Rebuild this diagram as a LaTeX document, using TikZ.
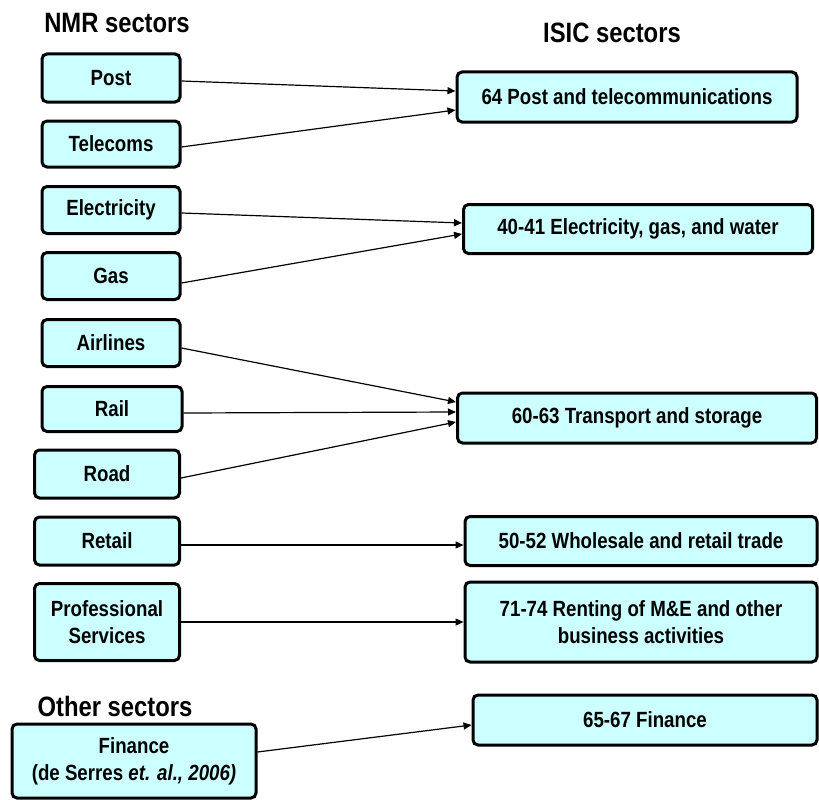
\documentclass[tikz,border=0pt]{standalone}
\usepackage{fontspec}
\setmainfont{Liberation Sans}[FakeStretch=0.85]
\usepackage{xcolor}
\usepackage{tikz}
\usetikzlibrary{arrows.meta,positioning}

\definecolor{boxcyan}{HTML}{CCFFFF}

\begin{document}
\begin{tikzpicture}[x=1pt, y=-1pt, >={Triangle[length=8pt,width=7pt]},
  sector/.style={draw, line width=3pt, rounded corners=5pt, fill=boxcyan,
    font=\fontsize{22}{27}\selectfont\bfseries, align=center, inner sep=0pt},
  title/.style={font=\fontsize{28}{30}\selectfont\bfseries},
  link/.style={->, line width=1.2pt}]
  \useasboundingbox (0,0) rectangle (819,800);
  % --- Headings ---
  \node[title] (nmrtitle) at (117,23) {NMR sectors};
  \node[title] (isictitle) at (612,33) {ISIC sectors};
  \node[title] (othertitle) at (115,706) {Other sectors};
  % --- NMR sectors (left) ---
  \node[sector, minimum width=138, minimum height=48] (post) at (111,78) {Post};
  \node[sector, minimum width=138, minimum height=46] (telecoms) at (111,144) {Telecoms};
  \node[sector, minimum width=138, minimum height=47] (elec) at (111,210) {Electricity};
  \node[sector, minimum width=138, minimum height=47] (gas) at (111,276) {Gas};
  \node[sector, minimum width=138, minimum height=47] (airlines) at (111,343) {Airlines};
  \node[sector, minimum width=140, minimum height=45] (rail) at (112,409) {Rail};
  \node[sector, minimum width=145, minimum height=48] (road) at (107,474) {Road};
  \node[sector, minimum width=145, minimum height=48] (retail) at (107,541) {Retail};
  \node[sector, minimum width=145, minimum height=77] (profserv) at (107,622) {Professional\\Services};
  \node[sector, minimum width=244, minimum height=74] (finance) at (134,761)
    {Finance\\(de Serres \textit{et. al., 2006)}};
  % --- ISIC sectors (right) ---
  \node[sector, minimum width=340, minimum height=50] (isicpost) at (627,97) {64 Post and telecommunications};
  \node[sector, minimum width=349, minimum height=49] (isicutil) at (638,229) {40-41 Electricity, gas, and water};
  \node[sector, minimum width=359, minimum height=50] (isictrans) at (637,418) {60-63 Transport and storage};
  \node[sector, minimum width=352, minimum height=49] (isictrade) at (641,541) {50-52 Wholesale and retail trade};
  \node[sector, minimum width=352, minimum height=80] (isicbus) at (641,622) {71-74 Renting of M\&E and other\\business activities};
  \node[sector, minimum width=344, minimum height=50] (isicfin) at (645,720) {65-67 Finance};
  % --- Links ---
  \draw[link] ([yshift=-3pt]post.east) -- ([yshift=6pt]isicpost.west);
  \draw[link] ([yshift=-3pt]telecoms.east) -- ([yshift=-13pt]isicpost.west);
  \draw[link] ([yshift=-3pt]elec.east) -- ([yshift=6pt]isicutil.west);
  \draw[link] ([yshift=-7pt]gas.east) -- ([yshift=-5pt]isicutil.west);
  \draw[link] ([yshift=-5pt]airlines.east) -- ([yshift=16pt]isictrans.west);
  \draw[link] ([yshift=-4pt]rail.east) -- ([yshift=6pt]isictrans.west);
  \draw[link] ([yshift=-4pt]road.east) -- ([yshift=-4pt]isictrans.west);
  \draw[link] ([yshift=-4pt]retail.east) -- ([yshift=-4pt]isictrade.west);
  \draw[link] (profserv.east) -- (isicbus.west);
  \draw[link] ([yshift=9pt]finance.east) -- ([yshift=-5pt]isicfin.west);
\end{tikzpicture}
\end{document}
